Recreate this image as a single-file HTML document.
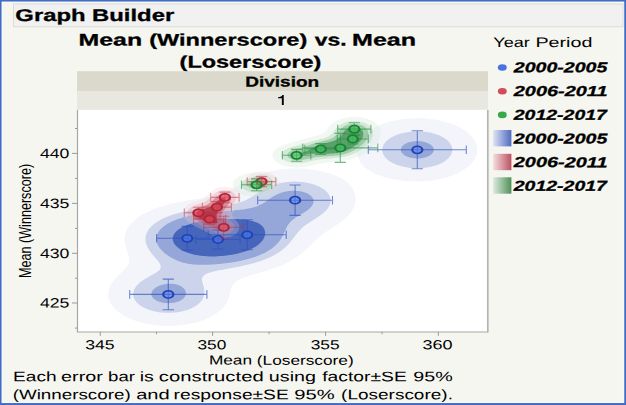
<!DOCTYPE html>
<html><head><meta charset="utf-8"><title>Graph Builder</title>
<style>
html,body{margin:0;padding:0;background:#f6f6f1;}
body{width:626px;height:405px;overflow:hidden;font-family:"Liberation Sans",sans-serif;}
svg{display:block;font-family:"Liberation Sans",sans-serif;}
text{fill:#000;font-size:50px;}
</style></head><body>
<svg width="626" height="405" viewBox="0 0 626 405">
<rect x="0" y="0" width="626" height="405" fill="#3f6cc4"/>
<rect x="1.55" y="1.55" width="622.7" height="401.5" fill="#fdfdfa"/>
<rect x="2.4" y="2.4" width="621.1" height="400.1" fill="#f6f6f1"/>
<rect x="13.5" y="4" width="609.5" height="22.8" fill="#f1f1f1" stroke="#dcdcd8" stroke-width="1"/>
<rect x="77" y="71.2" width="411" height="20.3" fill="#dbd9cb"/>
<rect x="77" y="91.5" width="411" height="18.4" fill="#e8e8e1"/>
<rect x="77" y="109.9" width="411" height="222" fill="#ffffff"/>
<defs><clipPath id="pc"><rect x="77.5" y="110" width="410.5" height="221.8"/></clipPath>
<linearGradient id="gb" x1="0" x2="1" y1="0" y2="0"><stop offset="0" stop-color="#dfe4f4"/><stop offset="1" stop-color="#4e6ac2"/></linearGradient>
<linearGradient id="gr" x1="0" x2="1" y1="0" y2="0"><stop offset="0" stop-color="#f4dde0"/><stop offset="1" stop-color="#bc5262"/></linearGradient>
<linearGradient id="gg" x1="0" x2="1" y1="0" y2="0"><stop offset="0" stop-color="#dcebdd"/><stop offset="1" stop-color="#4e9159"/></linearGradient>
</defs>
<g clip-path="url(#pc)">
<path d="M409.3,118.5 410.5,118.4 412.0,118.3 413.5,118.3 415.0,118.2 416.5,118.2 418.0,118.2 419.5,118.2 421.0,118.3 422.5,118.3 424.0,118.4 425.3,118.5 426.5,118.6 428.0,118.7 429.5,118.9 430.5,119.0 432.0,119.2 433.5,119.4 434.5,119.5 436.0,119.8 437.2,120.0 438.5,120.3 439.7,120.5 441.0,120.8 442.0,121.0 443.5,121.4 444.5,121.7 445.8,122.0 447.0,122.4 448.0,122.7 449.0,123.0 450.5,123.5 451.5,123.9 452.5,124.2 453.5,124.6 454.5,125.0 455.6,125.5 456.7,126.0 457.8,126.5 458.8,127.0 459.8,127.5 460.7,128.0 461.6,128.5 462.5,129.0 463.5,129.7 464.5,130.3 465.5,131.0 466.2,131.5 467.0,132.1 468.0,132.9 468.7,133.5 469.5,134.2 470.3,135.0 471.0,135.7 471.7,136.5 472.5,137.4 473.0,138.1 473.7,139.0 474.3,140.0 474.9,141.0 475.4,142.0 475.9,143.0 476.3,144.0 476.6,145.0 477.0,146.5 477.1,147.5 477.3,149.0 477.3,150.5 477.2,152.0 477.0,153.0 476.6,154.5 476.3,155.5 475.9,156.5 475.5,157.5 475.0,158.5 474.4,159.5 473.8,160.5 473.0,161.5 472.5,162.2 471.8,163.0 471.0,163.9 470.4,164.5 469.5,165.4 468.8,166.0 468.0,166.7 467.0,167.5 466.3,168.0 465.5,168.6 464.5,169.3 463.5,169.9 462.6,170.5 461.8,171.0 460.9,171.5 460.0,172.0 459.0,172.5 458.0,173.0 457.0,173.5 455.8,174.0 454.7,174.5 453.5,175.0 452.5,175.4 451.5,175.7 450.5,176.1 449.3,176.5 448.0,176.9 447.0,177.2 446.0,177.5 444.5,177.9 443.5,178.2 442.3,178.5 441.0,178.8 440.0,179.0 438.5,179.3 437.5,179.5 436.0,179.8 434.9,180.0 433.5,180.2 432.0,180.4 431.0,180.6 429.5,180.7 428.0,180.9 426.7,181.0 425.5,181.1 424.0,181.2 422.5,181.3 421.0,181.3 419.5,181.4 418.0,181.4 416.5,181.4 415.0,181.4 413.5,181.4 412.0,181.3 410.5,181.3 409.0,181.2 407.5,181.1 406.5,181.0 405.0,180.9 403.5,180.7 402.0,180.5 401.0,180.4 399.5,180.2 398.1,180.0 397.0,179.8 395.5,179.6 394.5,179.4 393.0,179.1 392.0,178.9 390.5,178.6 389.5,178.3 388.1,178.0 387.0,177.7 386.0,177.5 384.5,177.0 383.5,176.7 382.5,176.4 381.1,176.0 380.0,175.6 379.0,175.3 378.0,174.9 377.0,174.5 375.8,174.0 374.7,173.5 373.6,173.0 372.6,172.5 371.6,172.0 370.7,171.5 369.8,171.0 369.0,170.5 368.0,169.8 367.0,169.1 366.2,168.5 365.5,167.9 364.5,167.0 363.9,166.5 363.0,165.5 362.5,165.0 361.7,164.0 361.0,163.0 360.5,162.3 360.0,161.5 359.4,160.5 358.9,159.5 358.5,158.5 358.0,157.2 357.6,156.0 357.4,155.0 357.1,153.5 357.0,152.3 356.9,151.0 357.0,149.5 357.1,148.5 357.3,147.0 357.6,146.0 358.0,144.6 358.4,143.5 358.8,142.5 359.3,141.5 359.9,140.5 360.5,139.6 361.0,138.8 361.6,138.0 362.4,137.0 363.0,136.3 363.8,135.5 364.5,134.8 365.3,134.0 366.0,133.4 367.0,132.6 367.7,132.0 368.5,131.4 369.5,130.7 370.5,130.0 371.3,129.5 372.2,129.0 373.0,128.5 374.0,127.9 375.0,127.4 376.0,126.9 377.0,126.4 378.0,125.9 379.0,125.5 380.2,125.0 381.4,124.5 382.5,124.1 383.5,123.7 384.5,123.4 385.6,123.0 387.0,122.5 388.0,122.2 389.0,122.0 390.5,121.5 391.5,121.3 392.7,121.0 394.0,120.7 395.0,120.5 396.5,120.2 397.5,120.0 399.0,119.7 400.4,119.5 401.5,119.3 403.0,119.1 404.1,119.0 405.5,118.8 407.0,118.7 408.5,118.6ZM285.3,169.0 286.5,168.9 288.0,168.8 289.5,168.7 291.0,168.6 292.5,168.6 294.0,168.6 295.5,168.6 297.0,168.6 298.5,168.6 300.0,168.6 301.5,168.7 303.0,168.8 304.5,168.9 306.0,169.0 307.0,169.1 308.5,169.2 310.0,169.4 311.0,169.5 312.5,169.7 314.0,169.9 315.0,170.1 316.5,170.4 317.5,170.5 319.0,170.8 320.0,171.0 321.5,171.3 322.5,171.6 324.0,171.9 325.0,172.2 326.3,172.5 327.5,172.8 328.5,173.1 329.7,173.5 331.0,173.9 332.0,174.2 333.0,174.6 334.1,175.0 335.4,175.5 336.5,175.9 337.5,176.4 338.5,176.8 339.5,177.3 340.5,177.8 341.5,178.4 342.5,179.0 343.4,179.5 344.2,180.0 345.0,180.6 346.0,181.3 346.8,182.0 347.5,182.6 348.5,183.5 349.0,184.0 349.9,185.0 350.5,185.7 351.1,186.5 351.8,187.5 352.4,188.5 353.0,189.5 353.5,190.5 353.9,191.5 354.3,192.5 354.7,193.5 355.0,194.8 355.3,196.0 355.5,197.5 355.5,198.5 355.5,200.0 355.5,201.0 355.3,202.5 355.0,203.9 354.7,205.0 354.4,206.0 354.0,207.0 353.5,208.1 353.0,209.1 352.5,210.0 351.9,211.0 351.2,212.0 350.5,213.0 350.0,213.6 349.2,214.5 348.5,215.3 347.9,216.0 347.0,216.9 346.3,217.5 345.5,218.3 344.7,219.0 344.0,219.6 343.0,220.4 342.2,221.0 341.5,221.5 340.5,222.3 339.5,223.0 338.8,223.5 338.0,224.0 337.0,224.7 336.0,225.4 335.1,226.0 334.3,226.5 333.5,227.0 332.5,227.7 331.5,228.3 330.5,229.0 329.7,229.5 328.9,230.0 328.0,230.6 327.0,231.3 326.0,231.9 325.2,232.5 324.5,233.0 323.5,233.7 322.5,234.4 321.8,235.0 321.0,235.6 320.0,236.4 319.3,237.0 318.5,237.7 317.6,238.5 317.0,239.0 316.0,239.9 315.4,240.5 314.5,241.4 313.8,242.0 313.0,242.8 312.3,243.5 311.5,244.3 310.8,245.0 310.0,245.8 309.3,246.5 308.5,247.3 307.8,248.0 307.0,248.8 306.2,249.5 305.5,250.2 304.6,251.0 304.0,251.5 303.0,252.4 302.2,253.0 301.5,253.6 300.5,254.4 299.7,255.0 299.0,255.5 298.0,256.2 297.0,256.9 296.2,257.5 295.4,258.0 294.5,258.6 293.5,259.2 292.5,259.8 291.5,260.4 290.5,261.0 289.5,261.5 288.6,262.0 287.6,262.5 286.6,263.0 285.6,263.5 284.5,264.0 283.5,264.5 282.5,264.9 281.5,265.3 280.5,265.8 279.5,266.2 278.5,266.6 277.5,267.0 276.1,267.5 275.0,267.9 274.0,268.3 273.0,268.6 272.0,269.0 270.5,269.5 269.5,269.8 268.5,270.2 267.4,270.5 266.0,270.9 265.0,271.2 264.0,271.5 262.5,272.0 261.5,272.3 260.5,272.6 259.0,273.0 258.0,273.3 257.0,273.6 255.5,274.0 254.5,274.3 253.5,274.6 252.1,275.0 251.0,275.3 250.0,275.6 248.7,276.0 247.5,276.4 246.5,276.7 245.5,277.1 244.3,277.5 243.0,278.0 242.0,278.4 241.0,278.8 240.0,279.3 239.0,279.8 238.0,280.3 237.0,281.0 236.2,281.5 235.5,282.1 234.5,283.0 234.0,283.5 233.2,284.5 232.6,285.5 232.0,286.5 231.6,287.5 231.3,288.5 231.0,289.5 230.6,291.0 230.3,292.0 230.0,293.3 229.7,294.5 229.4,295.5 229.0,297.0 228.7,298.0 228.3,299.0 227.9,300.0 227.4,301.0 226.9,302.0 226.3,303.0 225.7,304.0 225.0,305.0 224.5,305.7 223.9,306.5 223.0,307.5 222.5,308.1 221.6,309.0 221.0,309.6 220.0,310.5 219.4,311.0 218.5,311.7 217.5,312.5 216.8,313.0 216.0,313.6 215.0,314.2 214.0,314.9 213.0,315.5 212.1,316.0 211.2,316.5 210.2,317.0 209.2,317.5 208.2,318.0 207.1,318.5 206.0,319.0 205.0,319.4 204.0,319.8 203.0,320.2 202.0,320.5 200.6,321.0 199.5,321.4 198.5,321.7 197.5,322.0 196.0,322.4 195.0,322.7 193.7,323.0 192.5,323.3 191.5,323.5 190.0,323.8 189.0,324.0 187.5,324.3 186.5,324.5 185.0,324.7 183.5,325.0 182.5,325.1 181.0,325.3 179.5,325.4 178.5,325.5 177.0,325.6 175.5,325.8 174.0,325.8 172.5,325.9 171.0,325.9 169.5,326.0 168.0,326.0 166.5,326.0 165.0,325.9 163.5,325.9 162.0,325.8 160.5,325.7 159.0,325.6 157.9,325.5 156.5,325.4 155.0,325.2 153.5,325.0 152.5,324.9 151.0,324.6 150.0,324.5 148.5,324.2 147.4,324.0 146.0,323.7 145.0,323.5 143.5,323.2 142.5,322.9 141.0,322.5 140.0,322.2 139.0,322.0 137.5,321.5 136.5,321.2 135.5,320.8 134.5,320.5 133.2,320.0 132.0,319.5 131.0,319.1 130.0,318.7 129.0,318.3 128.0,317.8 127.0,317.3 126.0,316.8 125.0,316.3 124.0,315.7 123.0,315.1 122.0,314.5 121.3,314.0 120.5,313.5 119.5,312.8 118.5,312.0 117.9,311.5 117.0,310.8 116.1,310.0 115.5,309.4 114.6,308.5 114.0,307.8 113.3,307.0 112.5,306.0 112.0,305.3 111.4,304.5 110.8,303.5 110.3,302.5 109.8,301.5 109.4,300.5 109.0,299.3 108.7,298.0 108.5,297.0 108.3,295.5 108.3,294.0 108.3,292.5 108.5,291.3 108.8,290.0 109.1,289.0 109.5,287.7 110.0,286.5 110.5,285.5 111.0,284.5 111.5,283.7 112.0,282.9 112.6,282.0 113.4,281.0 114.0,280.2 114.6,279.5 115.4,278.5 116.0,277.9 116.8,277.0 117.5,276.3 118.3,275.5 119.0,274.8 119.8,274.0 120.5,273.4 121.4,272.5 122.0,271.9 123.0,271.0 123.5,270.5 124.4,269.5 125.0,268.9 125.8,268.0 126.5,267.1 127.0,266.4 127.6,265.5 128.2,264.5 128.6,263.5 129.0,262.0 129.2,261.0 129.2,259.5 129.0,258.0 128.9,257.0 128.5,255.5 128.2,254.5 127.9,253.5 127.5,252.4 127.0,251.0 126.7,250.0 126.4,249.0 126.0,247.9 125.6,246.5 125.4,245.5 125.0,244.0 124.9,243.0 124.7,241.5 124.6,240.0 124.6,238.5 124.7,237.0 125.0,235.5 125.2,234.5 125.5,233.3 125.9,232.0 126.3,231.0 126.8,230.0 127.3,229.0 127.9,228.0 128.5,227.0 129.0,226.3 129.6,225.5 130.4,224.5 131.0,223.8 131.7,223.0 132.5,222.1 133.2,221.5 134.0,220.7 134.8,220.0 135.5,219.4 136.5,218.6 137.3,218.0 138.0,217.5 139.0,216.8 140.0,216.1 140.9,215.5 141.7,215.0 142.6,214.5 143.5,214.0 144.5,213.4 145.5,212.9 146.5,212.4 147.5,211.9 148.5,211.4 149.5,210.9 150.5,210.5 151.6,210.0 152.8,209.5 154.0,209.0 155.0,208.6 156.0,208.3 157.0,207.9 158.1,207.5 159.5,207.0 160.5,206.7 161.5,206.4 162.8,206.0 164.0,205.6 165.0,205.4 166.3,205.0 167.5,204.7 168.5,204.4 170.0,204.0 171.0,203.8 172.2,203.5 173.5,203.2 174.5,203.0 176.0,202.7 177.0,202.5 178.5,202.1 179.5,202.0 181.0,201.7 182.0,201.5 183.5,201.2 184.7,201.0 186.0,200.8 187.5,200.5 188.5,200.3 190.0,200.1 191.0,199.9 192.5,199.7 193.8,199.5 195.0,199.3 196.5,199.1 197.5,198.9 199.0,198.7 200.1,198.5 201.5,198.3 203.0,198.0 204.0,197.9 205.5,197.6 206.5,197.4 208.0,197.2 209.0,197.0 210.5,196.7 211.5,196.5 213.0,196.1 214.0,195.9 215.5,195.6 216.5,195.3 217.7,195.0 219.0,194.6 220.0,194.3 221.0,194.0 222.5,193.5 223.5,193.1 224.5,192.8 225.5,192.4 226.5,191.9 227.5,191.5 228.5,191.0 229.6,190.5 230.5,190.0 231.5,189.5 232.5,188.9 233.5,188.4 234.5,187.8 235.5,187.2 236.5,186.6 237.4,186.0 238.2,185.5 239.0,185.0 240.0,184.4 241.0,183.8 242.0,183.1 243.0,182.5 243.9,182.0 244.8,181.5 245.6,181.0 246.5,180.5 247.5,180.0 248.5,179.4 249.5,178.9 250.5,178.4 251.5,177.9 252.5,177.4 253.5,177.0 254.6,176.5 255.7,176.0 257.0,175.5 258.0,175.1 259.0,174.7 260.0,174.4 261.0,174.0 262.5,173.5 263.5,173.2 264.5,172.9 265.8,172.5 267.0,172.2 268.0,171.9 269.5,171.5 270.5,171.3 271.9,171.0 273.0,170.8 274.3,170.5 275.5,170.3 277.0,170.0 278.0,169.9 279.5,169.7 280.6,169.5 282.0,169.3 283.5,169.2 285.0,169.0Z" fill="#f3f5fb"/>
<path d="M413.3,131.5 414.5,131.4 416.0,131.4 417.5,131.4 419.0,131.4 420.5,131.5 421.5,131.5 423.0,131.6 424.5,131.8 426.0,132.0 427.0,132.1 428.5,132.3 429.5,132.5 431.0,132.8 432.0,133.1 433.5,133.5 434.5,133.8 435.5,134.1 436.8,134.5 438.0,134.9 439.0,135.3 440.0,135.8 441.0,136.2 442.0,136.7 443.0,137.3 444.0,137.9 444.9,138.5 445.7,139.0 446.5,139.6 447.5,140.5 448.0,141.0 449.0,142.0 449.5,142.6 450.2,143.5 450.8,144.5 451.3,145.5 451.7,146.5 452.0,147.5 452.3,149.0 452.3,150.5 452.0,152.0 451.8,153.0 451.4,154.0 450.9,155.0 450.3,156.0 449.5,157.0 449.0,157.6 448.2,158.5 447.5,159.1 446.5,160.0 445.8,160.5 445.0,161.1 444.0,161.7 443.0,162.3 442.0,162.9 441.0,163.4 440.0,163.8 439.0,164.3 438.0,164.7 437.0,165.0 435.6,165.5 434.5,165.8 433.5,166.1 432.1,166.5 431.0,166.8 429.8,167.0 428.5,167.3 427.0,167.5 426.0,167.6 424.5,167.8 423.0,168.0 422.0,168.1 420.5,168.2 419.0,168.2 417.5,168.2 416.0,168.2 414.5,168.2 413.0,168.1 411.7,168.0 410.5,167.9 409.0,167.7 407.5,167.5 406.5,167.3 405.0,167.1 404.0,166.9 402.5,166.5 401.5,166.3 400.5,166.0 399.0,165.6 398.0,165.2 397.0,164.9 396.0,164.5 394.9,164.0 393.8,163.5 392.7,163.0 391.8,162.5 390.9,162.0 390.0,161.4 389.0,160.7 388.0,160.0 387.4,159.5 386.5,158.7 385.8,158.0 385.0,157.0 384.5,156.4 383.9,155.5 383.4,154.5 382.9,153.5 382.5,152.0 382.3,151.0 382.3,149.5 382.4,148.0 382.7,147.0 383.0,146.0 383.5,145.0 384.1,144.0 384.8,143.0 385.5,142.1 386.0,141.5 387.0,140.6 387.7,140.0 388.5,139.3 389.5,138.6 390.4,138.0 391.2,137.5 392.1,137.0 393.1,136.5 394.1,136.0 395.2,135.5 396.5,135.0 397.5,134.6 398.5,134.3 399.5,133.9 401.0,133.5 402.0,133.2 403.0,133.0 404.5,132.7 405.5,132.5 407.0,132.2 408.3,132.0 409.5,131.8 411.0,131.7 412.5,131.6ZM287.5,182.0 288.5,181.9 290.0,181.8 291.5,181.7 293.0,181.6 294.5,181.6 296.0,181.6 297.5,181.7 299.0,181.8 300.5,181.9 301.9,182.0 303.0,182.1 304.5,182.3 305.6,182.5 307.0,182.7 308.3,183.0 309.5,183.3 310.5,183.5 312.0,183.9 313.0,184.2 314.0,184.5 315.3,185.0 316.5,185.5 317.5,185.9 318.5,186.3 319.5,186.8 320.5,187.3 321.5,187.9 322.5,188.5 323.3,189.0 324.0,189.5 325.0,190.3 325.8,191.0 326.5,191.7 327.3,192.5 328.0,193.4 328.5,194.1 329.0,195.0 329.6,196.0 330.0,197.1 330.4,198.5 330.5,199.5 330.6,201.0 330.5,202.1 330.2,203.5 329.9,204.5 329.5,205.5 329.0,206.5 328.4,207.5 327.7,208.5 327.0,209.4 326.5,210.0 325.6,211.0 325.0,211.6 324.0,212.5 323.4,213.0 322.5,213.8 321.6,214.5 320.9,215.0 320.0,215.6 319.0,216.3 318.0,217.0 317.3,217.5 316.5,218.0 315.5,218.6 314.5,219.3 313.5,219.9 312.5,220.5 311.7,221.0 310.9,221.5 310.0,222.1 309.0,222.7 308.0,223.4 307.1,224.0 306.4,224.5 305.5,225.1 304.5,225.9 303.7,226.5 303.0,227.1 302.0,228.0 301.4,228.5 300.5,229.4 299.9,230.0 299.0,231.0 298.5,231.6 297.7,232.5 297.0,233.4 296.5,234.0 295.7,235.0 295.0,236.0 294.5,236.7 293.9,237.5 293.1,238.5 292.5,239.3 292.0,240.0 291.2,241.0 290.5,241.9 290.0,242.5 289.1,243.5 288.5,244.2 287.7,245.0 287.0,245.7 286.2,246.5 285.5,247.2 284.6,248.0 284.0,248.5 283.0,249.3 282.2,250.0 281.5,250.5 280.5,251.2 279.5,251.9 278.7,252.5 277.9,253.0 277.0,253.5 276.0,254.1 275.0,254.7 274.0,255.3 273.0,255.8 272.0,256.3 271.0,256.8 270.0,257.3 269.0,257.7 268.0,258.2 267.0,258.6 266.0,259.0 264.7,259.5 263.5,260.0 262.5,260.3 261.5,260.7 260.5,261.0 259.1,261.5 258.0,261.8 257.0,262.2 255.9,262.5 254.5,262.9 253.5,263.2 252.3,263.5 251.0,263.9 250.0,264.1 248.5,264.5 247.5,264.7 246.3,265.0 245.0,265.3 244.0,265.5 242.5,265.9 241.5,266.1 240.0,266.4 239.0,266.6 237.5,266.9 236.5,267.1 235.0,267.4 234.0,267.5 232.5,267.8 231.5,268.0 230.0,268.3 228.8,268.5 227.5,268.7 226.1,269.0 225.0,269.2 223.5,269.5 222.5,269.7 221.0,269.9 220.0,270.1 218.5,270.4 217.5,270.6 216.0,271.0 215.0,271.2 213.7,271.5 212.5,271.8 211.5,272.1 210.1,272.5 209.0,272.8 208.0,273.2 207.0,273.6 206.0,274.1 205.0,274.6 204.0,275.4 203.3,276.0 202.6,277.0 202.2,278.0 202.0,279.5 202.2,281.0 202.5,282.5 202.8,283.5 203.0,284.5 203.5,286.0 203.7,287.0 204.0,288.2 204.2,289.5 204.4,291.0 204.4,292.5 204.3,294.0 204.0,295.5 203.7,296.5 203.3,297.5 202.9,298.5 202.3,299.5 201.6,300.5 201.0,301.3 200.4,302.0 199.5,303.0 198.9,303.5 198.0,304.3 197.1,305.0 196.4,305.5 195.5,306.1 194.5,306.7 193.5,307.2 192.5,307.8 191.5,308.2 190.5,308.7 189.5,309.1 188.4,309.5 187.0,310.0 186.0,310.3 185.0,310.6 183.5,311.0 182.5,311.3 181.4,311.5 180.0,311.8 178.7,312.0 177.5,312.2 176.0,312.4 174.9,312.5 173.5,312.6 172.0,312.7 170.5,312.8 169.0,312.8 167.5,312.8 166.0,312.8 164.5,312.7 163.0,312.6 161.7,312.5 160.5,312.4 159.0,312.2 157.9,312.0 156.5,311.7 155.3,311.5 154.0,311.2 153.0,311.0 151.5,310.6 150.5,310.3 149.5,309.9 148.2,309.5 147.0,309.0 146.0,308.6 145.0,308.2 144.0,307.7 143.0,307.1 142.0,306.6 141.1,306.0 140.3,305.5 139.5,304.9 138.5,304.1 137.8,303.5 137.0,302.7 136.4,302.0 135.6,301.0 135.0,300.2 134.5,299.3 134.0,298.2 133.6,297.0 133.3,296.0 133.2,294.5 133.2,293.0 133.5,291.5 133.8,290.5 134.2,289.5 134.7,288.5 135.3,287.5 136.0,286.6 136.5,285.9 137.3,285.0 138.0,284.3 138.8,283.5 139.5,282.9 140.5,282.1 141.2,281.5 142.0,280.9 143.0,280.2 144.0,279.6 144.9,279.0 145.7,278.5 146.6,278.0 147.5,277.5 148.5,276.9 149.5,276.3 150.5,275.8 151.5,275.2 152.5,274.7 153.5,274.1 154.5,273.6 155.5,273.0 156.3,272.5 157.0,272.0 158.0,271.3 159.0,270.5 159.5,269.9 160.2,269.0 160.6,268.0 160.8,266.5 160.5,265.2 160.0,264.0 159.5,263.2 159.0,262.4 158.4,261.5 157.6,260.5 157.0,259.8 156.3,259.0 155.5,258.1 155.0,257.5 154.2,256.5 153.5,255.7 152.9,255.0 152.1,254.0 151.5,253.3 150.9,252.5 150.2,251.5 149.5,250.5 149.0,249.8 148.5,249.0 148.0,248.0 147.4,247.0 147.0,246.0 146.5,244.8 146.1,243.5 145.8,242.5 145.6,241.0 145.5,240.0 145.5,238.5 145.5,237.5 145.8,236.0 146.0,235.0 146.5,233.6 147.0,232.5 147.5,231.5 148.0,230.6 148.5,229.8 149.1,229.0 149.9,228.0 150.5,227.3 151.3,226.5 152.0,225.8 152.9,225.0 153.5,224.5 154.5,223.7 155.4,223.0 156.1,222.5 157.0,221.9 158.0,221.3 159.0,220.7 160.0,220.1 161.0,219.6 162.0,219.0 163.0,218.5 164.0,218.1 165.0,217.6 166.0,217.2 167.0,216.8 168.0,216.4 169.0,216.0 170.3,215.5 171.5,215.1 172.5,214.8 173.5,214.4 174.9,214.0 176.0,213.7 177.0,213.4 178.4,213.0 179.5,212.7 180.5,212.5 182.0,212.1 183.0,211.9 184.5,211.5 185.5,211.3 186.9,211.0 188.0,210.8 189.5,210.5 190.5,210.3 192.0,210.0 193.0,209.9 194.5,209.6 195.5,209.5 197.0,209.2 198.5,209.0 199.5,208.8 201.0,208.6 202.0,208.5 203.5,208.3 205.0,208.1 206.0,208.0 207.5,207.8 209.0,207.6 210.0,207.5 211.5,207.3 213.0,207.1 214.0,207.0 215.5,206.8 217.0,206.6 218.0,206.5 219.5,206.3 221.0,206.1 222.0,206.0 223.5,205.7 225.0,205.5 226.0,205.4 227.5,205.1 228.5,205.0 230.0,204.7 231.1,204.5 232.5,204.2 233.5,204.0 235.0,203.7 236.0,203.4 237.5,203.0 238.5,202.8 239.5,202.5 241.0,202.0 242.0,201.6 243.0,201.3 244.0,200.9 245.0,200.5 246.0,200.0 247.1,199.5 248.1,199.0 249.0,198.5 250.0,197.9 251.0,197.4 252.0,196.7 253.0,196.1 254.0,195.5 254.7,195.0 255.5,194.5 256.5,193.8 257.5,193.2 258.5,192.5 259.3,192.0 260.1,191.5 261.0,190.9 262.0,190.3 263.0,189.8 264.0,189.2 265.0,188.7 266.0,188.1 267.0,187.7 268.0,187.2 269.0,186.7 270.0,186.3 271.0,185.9 272.1,185.5 273.5,185.0 274.5,184.7 275.5,184.4 276.8,184.0 278.0,183.7 279.0,183.4 280.5,183.1 281.5,182.9 283.0,182.6 284.0,182.5 285.5,182.2 287.0,182.1Z" fill="#ccd4ec"/>
<path d="M412.4,141.5 413.5,141.4 415.0,141.2 416.5,141.1 418.0,141.1 419.5,141.2 421.0,141.3 422.1,141.5 423.5,141.8 424.6,142.0 426.0,142.4 427.0,142.8 428.0,143.2 429.0,143.7 430.0,144.3 431.0,145.0 431.6,145.5 432.5,146.4 433.0,147.1 433.5,148.2 433.8,149.5 433.6,151.0 433.3,152.0 432.6,153.0 432.0,153.7 431.2,154.5 430.5,155.0 429.5,155.6 428.5,156.2 427.5,156.6 426.5,157.0 425.0,157.5 424.0,157.7 422.7,158.0 421.5,158.2 420.0,158.4 418.5,158.5 417.0,158.5 415.5,158.4 414.0,158.3 412.5,158.1 411.5,157.9 410.0,157.6 409.0,157.3 408.0,157.0 406.8,156.5 405.7,156.0 404.8,155.5 404.0,155.0 403.0,154.1 402.4,153.5 401.6,152.5 401.1,151.5 400.8,150.5 400.9,149.0 401.2,148.0 401.7,147.0 402.5,146.0 403.0,145.5 404.0,144.7 405.0,144.0 405.9,143.5 407.0,143.0 408.0,142.6 409.0,142.3 410.0,142.0 411.5,141.7ZM289.0,191.0 290.0,190.9 291.5,190.8 293.0,190.7 294.5,190.7 296.0,190.8 297.5,190.9 298.7,191.0 300.0,191.2 301.5,191.5 302.5,191.7 303.6,192.0 305.0,192.5 306.0,192.9 307.0,193.3 308.0,193.8 309.0,194.4 309.9,195.0 310.5,195.5 311.5,196.4 312.0,197.0 312.7,198.0 313.2,199.0 313.5,200.3 313.6,201.5 313.5,202.5 313.0,204.0 312.5,205.0 312.0,205.8 311.5,206.5 310.6,207.5 310.0,208.1 309.1,209.0 308.5,209.5 307.5,210.2 306.5,211.0 305.7,211.5 305.0,212.0 304.0,212.6 303.0,213.2 302.0,213.8 301.0,214.4 300.0,215.0 299.1,215.5 298.3,216.0 297.4,216.5 296.5,217.1 295.5,217.7 294.5,218.4 293.7,219.0 293.0,219.5 292.0,220.4 291.3,221.0 290.5,221.8 289.9,222.5 289.1,223.5 288.5,224.3 288.0,225.0 287.4,226.0 286.9,227.0 286.3,228.0 285.9,229.0 285.4,230.0 284.9,231.0 284.5,232.0 284.0,233.1 283.5,234.1 283.0,235.1 282.5,236.1 282.0,237.0 281.4,238.0 280.8,239.0 280.1,240.0 279.5,240.9 279.0,241.5 278.2,242.5 277.5,243.3 276.8,244.0 276.0,244.9 275.3,245.5 274.5,246.2 273.6,247.0 273.0,247.5 272.0,248.3 271.0,249.0 270.3,249.5 269.5,250.0 268.5,250.6 267.5,251.2 266.5,251.8 265.5,252.4 264.5,252.9 263.5,253.4 262.5,253.8 261.5,254.3 260.5,254.7 259.5,255.2 258.5,255.6 257.4,256.0 256.0,256.5 255.0,256.9 254.0,257.2 253.0,257.5 251.5,258.0 250.5,258.3 249.5,258.6 248.0,259.0 247.0,259.3 246.0,259.5 244.5,259.9 243.5,260.1 242.0,260.5 241.0,260.7 239.6,261.0 238.5,261.2 237.0,261.5 236.0,261.7 234.5,261.9 233.5,262.1 232.0,262.4 231.0,262.5 229.5,262.7 228.0,262.9 227.0,263.1 225.5,263.3 224.0,263.4 223.0,263.6 221.5,263.7 220.0,263.9 218.7,264.0 217.5,264.1 216.0,264.2 214.5,264.4 213.0,264.5 212.0,264.5 210.5,264.6 209.0,264.7 207.5,264.7 206.0,264.8 204.5,264.8 203.0,264.8 201.5,264.8 200.0,264.8 198.5,264.8 197.0,264.7 195.5,264.6 194.0,264.5 193.0,264.4 191.5,264.3 190.0,264.1 189.0,263.9 187.5,263.6 186.5,263.4 185.0,263.1 184.0,262.9 182.7,262.5 181.5,262.1 180.5,261.8 179.5,261.5 178.3,261.0 177.0,260.5 176.0,260.1 175.0,259.6 174.0,259.1 173.0,258.6 172.0,258.1 171.0,257.5 170.2,257.0 169.4,256.5 168.5,255.9 167.5,255.3 166.5,254.5 165.8,254.0 165.0,253.4 164.0,252.5 163.4,252.0 162.5,251.1 161.9,250.5 161.0,249.5 160.5,249.0 159.7,248.0 159.0,247.0 158.5,246.1 158.0,245.2 157.5,244.2 157.0,243.0 156.7,242.0 156.5,240.8 156.4,239.5 156.4,238.0 156.5,237.0 156.9,235.5 157.2,234.5 157.6,233.5 158.2,232.5 158.8,231.5 159.5,230.5 160.0,229.9 160.8,229.0 161.5,228.3 162.4,227.5 163.0,227.0 164.0,226.2 164.9,225.5 165.7,225.0 166.5,224.4 167.5,223.8 168.5,223.3 169.5,222.7 170.5,222.2 171.5,221.7 172.5,221.3 173.5,220.8 174.5,220.4 175.5,220.0 176.8,219.5 178.0,219.1 179.0,218.7 180.0,218.4 181.3,218.0 182.5,217.6 183.5,217.3 184.8,217.0 186.0,216.7 187.0,216.4 188.5,216.1 189.5,215.8 191.0,215.5 192.0,215.3 193.5,215.0 194.5,214.8 196.0,214.6 197.0,214.4 198.5,214.1 199.5,214.0 201.0,213.8 202.5,213.5 203.5,213.4 205.0,213.2 206.5,213.0 207.5,212.9 209.0,212.7 210.5,212.6 211.5,212.4 213.0,212.3 214.5,212.1 215.9,212.0 217.0,211.9 218.5,211.8 220.0,211.6 221.4,211.5 222.5,211.4 224.0,211.3 225.5,211.1 227.0,211.0 228.0,210.9 229.5,210.8 231.0,210.7 232.5,210.5 233.5,210.4 235.0,210.3 236.5,210.1 237.9,210.0 239.0,209.9 240.5,209.7 242.0,209.5 243.0,209.4 244.5,209.2 245.6,209.0 247.0,208.8 248.5,208.5 249.5,208.3 250.9,208.0 252.0,207.7 253.0,207.5 254.5,207.1 255.5,206.7 256.5,206.4 257.6,206.0 258.8,205.5 259.9,205.0 260.9,204.5 261.9,204.0 262.8,203.5 263.6,203.0 264.5,202.4 265.5,201.8 266.5,201.1 267.3,200.5 268.0,200.0 269.0,199.3 270.0,198.6 270.9,198.0 271.6,197.5 272.5,196.9 273.5,196.3 274.5,195.8 275.5,195.2 276.5,194.7 277.5,194.2 278.5,193.8 279.5,193.4 280.5,193.0 282.0,192.5 283.0,192.2 284.0,191.9 285.5,191.6 286.5,191.4 288.0,191.1ZM165.8,284.0 167.0,283.8 168.5,283.7 170.0,283.7 171.5,283.7 173.0,283.8 174.4,284.0 175.5,284.2 176.7,284.5 178.0,284.9 179.0,285.3 180.0,285.7 181.0,286.3 182.0,286.9 182.8,287.5 183.5,288.2 184.3,289.0 185.0,290.0 185.5,291.0 185.8,292.0 186.0,293.5 185.7,295.0 185.3,296.0 184.7,297.0 184.0,297.9 183.4,298.5 182.5,299.2 181.5,299.9 180.5,300.5 179.5,301.0 178.5,301.4 177.5,301.8 176.5,302.1 175.0,302.4 174.0,302.7 172.5,302.9 171.5,303.0 170.0,303.1 168.5,303.2 167.0,303.1 165.5,303.0 164.5,302.9 163.0,302.7 162.0,302.5 160.5,302.1 159.5,301.8 158.5,301.5 157.3,301.0 156.3,300.5 155.5,300.0 154.5,299.3 153.5,298.5 153.0,298.0 152.3,297.0 151.7,296.0 151.4,295.0 151.4,293.5 151.6,292.5 152.0,291.5 152.6,290.5 153.4,289.5 154.0,288.9 155.0,288.1 155.9,287.5 156.7,287.0 157.6,286.5 158.7,286.0 159.9,285.5 161.0,285.1 162.0,284.8 163.2,284.5 164.5,284.2 165.8,284.0Z" fill="#95a6d8"/>
<path d="M222.3,219.0 223.5,219.0 225.0,218.9 226.5,218.9 228.0,218.9 229.5,218.9 231.0,218.9 232.5,218.9 234.0,218.9 235.5,219.0 236.5,219.0 238.0,219.1 239.5,219.2 241.0,219.3 242.5,219.4 243.5,219.5 245.0,219.7 246.5,219.9 247.5,220.1 249.0,220.3 250.0,220.5 251.5,220.9 252.5,221.1 253.9,221.5 255.0,221.9 256.0,222.2 257.0,222.6 258.0,223.1 259.0,223.6 260.0,224.3 261.0,225.0 261.6,225.5 262.5,226.4 263.0,227.0 263.7,228.0 264.2,229.0 264.6,230.0 265.0,231.5 265.1,232.5 265.1,234.0 265.0,235.0 264.6,236.5 264.2,237.5 263.7,238.5 263.2,239.5 262.5,240.5 262.0,241.1 261.2,242.0 260.5,242.8 259.7,243.5 259.0,244.1 258.0,244.9 257.2,245.5 256.5,246.0 255.5,246.7 254.5,247.3 253.5,247.8 252.5,248.4 251.5,248.8 250.5,249.3 249.5,249.8 248.5,250.2 247.5,250.6 246.4,251.0 245.0,251.5 244.0,251.8 243.0,252.1 241.7,252.5 240.5,252.8 239.5,253.1 238.0,253.5 237.0,253.7 235.7,254.0 234.5,254.3 233.2,254.5 232.0,254.7 230.5,255.0 229.5,255.1 228.0,255.3 226.8,255.5 225.5,255.7 224.0,255.8 222.5,256.0 221.5,256.0 220.0,256.1 218.5,256.2 217.0,256.3 215.5,256.4 214.0,256.4 212.5,256.4 211.0,256.4 209.5,256.4 208.0,256.3 206.5,256.2 205.0,256.1 203.5,256.0 202.5,255.9 201.0,255.7 199.5,255.5 198.5,255.4 197.0,255.1 196.0,255.0 194.5,254.7 193.5,254.4 192.0,254.1 191.0,253.8 190.0,253.5 188.5,253.0 187.5,252.7 186.5,252.3 185.5,251.9 184.5,251.5 183.4,251.0 182.4,250.5 181.5,250.0 180.5,249.4 179.5,248.8 178.5,248.1 177.8,247.5 177.0,246.8 176.1,246.0 175.5,245.3 174.8,244.5 174.2,243.5 173.6,242.5 173.2,241.5 172.9,240.5 172.7,239.0 172.8,237.5 173.0,236.5 173.5,235.2 174.0,234.3 174.5,233.5 175.3,232.5 176.0,231.7 176.7,231.0 177.5,230.3 178.5,229.5 179.2,229.0 180.0,228.5 181.0,227.9 182.0,227.3 183.0,226.8 184.0,226.3 185.0,225.9 186.0,225.5 187.2,225.0 188.5,224.5 189.5,224.2 190.5,223.8 191.6,223.5 193.0,223.1 194.0,222.8 195.2,222.5 196.5,222.2 197.5,222.0 199.0,221.6 200.0,221.4 201.5,221.2 202.5,221.0 204.0,220.7 205.5,220.5 206.5,220.4 208.0,220.2 209.4,220.0 210.5,219.9 212.0,219.7 213.5,219.6 214.5,219.5 216.0,219.4 217.5,219.3 219.0,219.2 220.5,219.1 222.0,219.0Z" fill="#4666bc"/>
<path d="M257.5,171.5 259.0,171.3 260.5,171.2 262.0,171.2 263.5,171.2 265.0,171.4 266.0,171.6 267.5,172.0 268.5,172.3 269.5,172.6 270.5,173.1 271.5,173.6 272.5,174.2 273.5,174.9 274.2,175.5 275.0,176.3 275.6,177.0 276.2,178.0 276.7,179.0 277.0,180.1 277.2,181.5 277.0,183.0 276.7,184.0 276.3,185.0 275.7,186.0 275.0,186.9 274.4,187.5 273.5,188.3 272.5,189.0 271.7,189.5 270.8,190.0 269.7,190.5 268.5,190.9 267.5,191.2 266.5,191.5 265.0,191.8 263.5,192.0 262.5,192.0 261.0,192.0 260.0,192.0 258.5,191.9 257.0,191.6 256.0,191.4 254.5,191.0 253.5,190.6 252.5,190.2 251.5,189.8 250.5,189.2 249.5,188.5 248.9,188.0 248.0,187.2 247.4,186.5 246.8,185.5 246.3,184.5 246.0,183.5 245.8,182.0 245.9,180.5 246.1,179.5 246.5,178.5 247.1,177.5 247.8,176.5 248.5,175.8 249.4,175.0 250.0,174.5 251.0,173.9 252.0,173.3 253.0,172.8 254.0,172.4 255.3,172.0 256.5,171.7 257.5,171.5ZM222.9,187.0 224.0,186.9 225.5,186.9 226.8,187.0 228.0,187.1 229.5,187.4 230.5,187.6 231.9,188.0 233.0,188.4 234.0,188.8 235.0,189.3 236.0,189.8 237.0,190.5 237.6,191.0 238.5,191.9 239.0,192.5 239.7,193.5 240.2,194.5 240.5,195.5 240.8,197.0 240.8,198.5 240.5,199.9 240.2,201.0 239.7,202.0 239.2,203.0 238.6,204.0 238.0,204.9 237.5,205.6 236.8,206.5 236.1,207.5 235.5,208.2 234.9,209.0 234.2,210.0 233.6,211.0 233.0,212.0 232.5,213.0 232.3,214.0 232.3,215.5 232.7,216.5 233.4,217.5 234.0,218.2 234.8,219.0 235.5,219.7 236.2,220.5 237.0,221.4 237.5,222.0 238.2,223.0 238.7,224.0 239.1,225.0 239.4,226.5 239.4,228.0 239.0,229.5 238.6,230.5 238.1,231.5 237.5,232.3 236.8,233.0 236.0,233.8 235.1,234.5 234.3,235.0 233.4,235.5 232.4,236.0 231.1,236.5 230.0,236.9 229.0,237.1 227.5,237.5 226.5,237.6 225.0,237.7 223.5,237.8 222.0,237.7 220.5,237.6 219.5,237.4 218.0,237.1 217.0,236.9 215.7,236.5 214.5,236.1 213.5,235.7 212.5,235.2 211.5,234.7 210.5,234.2 209.5,233.6 208.5,233.1 207.5,232.5 206.6,232.0 205.7,231.5 204.8,231.0 203.8,230.5 202.8,230.0 201.8,229.5 200.7,229.0 199.7,228.5 198.6,228.0 197.6,227.5 196.6,227.0 195.7,226.5 194.8,226.0 193.9,225.5 193.0,225.0 192.0,224.4 191.0,223.8 190.0,223.2 189.1,222.5 188.4,222.0 187.5,221.3 186.6,220.5 186.0,219.9 185.1,219.0 184.5,218.2 184.0,217.4 183.5,216.5 183.0,215.2 182.7,214.0 182.7,212.5 182.9,211.0 183.3,210.0 183.8,209.0 184.5,208.0 185.0,207.3 185.8,206.5 186.5,205.9 187.5,205.2 188.5,204.6 189.5,204.0 190.5,203.5 191.5,203.1 192.5,202.7 193.5,202.4 194.6,202.0 196.0,201.6 197.0,201.2 198.0,200.9 199.2,200.5 200.4,200.0 201.5,199.5 202.4,199.0 203.2,198.5 204.0,198.0 205.0,197.2 205.8,196.5 206.5,195.8 207.3,195.0 208.0,194.3 208.9,193.5 209.5,192.9 210.5,192.0 211.1,191.5 212.0,190.9 213.0,190.2 214.0,189.6 215.0,189.1 216.0,188.6 217.0,188.2 218.0,187.9 219.5,187.5 220.5,187.3 222.0,187.1Z" fill="#f0cdd2" fill-opacity="0.28"/>
<path d="M257.7,175.0 259.0,174.7 260.5,174.6 262.0,174.5 263.5,174.7 265.0,174.9 266.0,175.2 267.0,175.6 268.0,176.0 269.0,176.6 270.0,177.4 270.6,178.0 271.4,179.0 271.8,180.0 272.1,181.0 272.0,182.5 271.7,183.5 271.2,184.5 270.5,185.3 269.8,186.0 269.0,186.6 268.0,187.2 267.0,187.6 266.0,188.0 264.5,188.4 263.5,188.5 262.0,188.7 260.5,188.6 259.2,188.5 258.0,188.3 257.0,188.0 255.7,187.5 254.6,187.0 253.8,186.5 253.0,185.8 252.2,185.0 251.5,184.0 251.1,183.0 250.9,182.0 251.0,180.7 251.4,179.5 252.0,178.5 252.5,177.9 253.5,177.0 254.2,176.5 255.0,176.0 256.2,175.5 257.5,175.1ZM221.5,190.5 223.0,190.3 224.5,190.2 226.0,190.3 227.5,190.4 228.5,190.6 229.7,191.0 231.0,191.5 232.0,192.0 232.8,192.5 233.5,193.0 234.5,194.0 235.0,194.7 235.5,195.7 235.9,197.0 236.0,198.5 235.7,200.0 235.3,201.0 234.9,202.0 234.3,203.0 233.6,204.0 233.0,204.8 232.5,205.5 231.7,206.5 231.0,207.5 230.5,208.1 229.8,209.0 229.1,210.0 228.5,210.9 228.0,211.6 227.5,212.5 227.0,213.5 226.7,215.0 226.9,216.5 227.4,217.5 228.0,218.3 228.6,219.0 229.5,219.8 230.3,220.5 231.0,221.1 231.9,222.0 232.5,222.6 233.2,223.5 233.8,224.5 234.2,225.5 234.4,227.0 234.3,228.5 233.9,229.5 233.2,230.5 232.5,231.3 231.7,232.0 231.0,232.5 230.0,233.0 229.0,233.5 227.5,234.0 226.5,234.2 225.0,234.4 223.5,234.5 222.0,234.4 220.5,234.3 219.2,234.0 218.0,233.7 217.0,233.3 216.0,232.9 215.0,232.5 214.0,232.0 213.0,231.5 212.0,230.9 211.0,230.4 210.0,229.8 209.0,229.3 208.0,228.8 207.0,228.3 206.0,227.8 205.0,227.3 204.0,226.9 203.0,226.4 202.0,226.0 200.9,225.5 199.9,225.0 198.9,224.5 197.9,224.0 197.0,223.5 196.0,222.9 195.0,222.3 194.0,221.7 193.0,221.0 192.3,220.5 191.5,219.9 190.5,219.0 190.0,218.5 189.1,217.5 188.5,216.6 188.0,215.7 187.6,214.5 187.4,213.5 187.5,212.2 187.8,211.0 188.3,210.0 189.0,209.1 189.6,208.5 190.5,207.7 191.5,207.0 192.4,206.5 193.4,206.0 194.5,205.5 195.5,205.2 196.5,204.8 197.6,204.5 199.0,204.1 200.0,203.8 201.0,203.5 202.3,203.0 203.5,202.5 204.5,202.0 205.4,201.5 206.2,201.0 207.0,200.4 208.0,199.6 208.7,199.0 209.5,198.3 210.3,197.5 211.0,196.8 211.8,196.0 212.5,195.3 213.4,194.5 214.0,194.0 215.0,193.3 216.0,192.6 217.0,192.0 218.0,191.6 219.0,191.2 220.0,190.9 221.5,190.5Z" fill="#e196a0" fill-opacity="0.32"/>
<path d="M259.2,179.0 260.5,178.6 262.0,178.6 263.5,178.9 264.5,179.3 265.4,180.0 266.0,181.0 266.0,182.0 265.5,183.0 265.0,183.5 264.0,184.1 262.8,184.5 261.5,184.6 260.2,184.5 259.0,184.1 258.0,183.5 257.5,183.0 257.0,182.0 257.0,181.0 257.6,180.0 258.5,179.3ZM221.7,194.0 223.0,193.8 224.5,193.7 226.0,193.8 227.0,194.0 228.2,194.5 229.1,195.0 230.0,195.8 230.5,196.5 231.0,197.7 231.1,199.0 230.9,200.0 230.5,201.0 230.0,202.0 229.3,203.0 228.6,204.0 228.0,204.9 227.5,205.5 226.8,206.5 226.0,207.5 225.5,208.1 224.8,209.0 224.0,210.0 223.5,210.7 222.9,211.5 222.3,212.5 221.8,213.5 221.4,214.5 221.3,216.0 221.5,217.3 222.0,218.4 222.5,219.2 223.2,220.0 224.0,220.7 224.9,221.5 225.6,222.0 226.5,222.8 227.3,223.5 228.0,224.3 228.5,225.0 229.0,226.4 229.0,227.3 228.6,228.5 228.0,229.2 227.0,229.9 226.0,230.4 225.0,230.7 223.5,230.9 222.0,230.9 220.5,230.6 219.5,230.4 218.4,230.0 217.2,229.5 216.2,229.0 215.3,228.5 214.4,228.0 213.4,227.5 212.5,227.0 211.4,226.5 210.3,226.0 209.1,225.5 208.0,225.1 207.0,224.7 206.0,224.3 205.0,223.9 204.0,223.5 202.8,223.0 201.7,222.5 200.7,222.0 199.7,221.5 198.8,221.0 198.0,220.5 197.0,219.9 196.0,219.2 195.2,218.5 194.5,217.9 193.6,217.0 193.0,216.2 192.5,215.3 192.1,214.0 192.2,212.5 192.6,211.5 193.3,210.5 194.0,209.8 195.0,209.1 196.0,208.5 197.0,208.1 198.0,207.7 199.0,207.4 200.3,207.0 201.5,206.7 202.5,206.4 203.8,206.0 205.0,205.6 206.0,205.2 207.0,204.7 208.0,204.1 209.0,203.5 209.7,203.0 210.5,202.4 211.5,201.6 212.1,201.0 213.0,200.2 213.7,199.5 214.5,198.7 215.2,198.0 216.0,197.3 216.9,196.5 217.6,196.0 218.5,195.4 219.5,194.8 220.5,194.4 221.7,194.0Z" fill="#c8505f" fill-opacity="0.5"/>
<path d="M222.3,198.0 223.5,197.9 224.5,198.1 225.5,199.0 225.6,200.0 225.4,201.0 224.9,202.0 224.3,203.0 223.7,204.0 223.0,205.0 222.5,205.6 221.9,206.5 221.1,207.5 220.5,208.2 219.8,209.0 219.0,210.0 218.5,210.6 217.9,211.5 217.4,212.5 217.0,213.5 216.7,215.0 216.7,216.5 216.8,218.0 217.0,219.4 217.2,220.5 217.4,222.0 217.0,223.1 215.5,223.4 214.0,223.2 212.5,223.0 211.5,222.9 210.0,222.6 209.0,222.3 207.7,222.0 206.5,221.6 205.5,221.3 204.5,220.9 203.5,220.5 202.5,220.0 201.5,219.5 200.5,218.9 199.5,218.3 198.5,217.5 198.0,217.0 197.1,216.0 196.5,215.0 196.3,214.0 196.5,212.7 197.0,211.9 198.0,211.0 198.9,210.5 200.0,210.0 201.0,209.7 202.0,209.4 203.5,209.0 204.5,208.8 205.7,208.5 207.0,208.1 208.0,207.8 209.0,207.4 210.0,206.9 211.0,206.4 212.0,205.7 213.0,205.0 213.6,204.5 214.5,203.8 215.4,203.0 216.0,202.5 217.0,201.6 217.6,201.0 218.5,200.2 219.4,199.5 220.1,199.0 221.0,198.5 222.3,198.0Z" fill="#aa2032" fill-opacity="0.7"/>
<path d="M354.0,117.0 354.6,117.0 356.0,117.0 357.5,117.1 359.0,117.2 360.5,117.4 361.5,117.5 363.0,117.8 364.0,118.0 365.5,118.4 366.5,118.6 367.7,119.0 369.0,119.4 370.0,119.8 371.0,120.3 372.0,120.7 373.0,121.3 374.0,121.9 374.9,122.5 375.5,123.0 376.5,123.8 377.2,124.5 378.0,125.5 378.5,126.2 379.0,127.0 379.5,128.0 380.0,129.5 380.2,130.5 380.4,132.0 380.4,133.5 380.3,135.0 380.0,136.5 379.8,137.5 379.4,138.5 379.0,139.6 378.5,140.7 378.0,141.6 377.4,142.5 376.7,143.5 376.0,144.4 375.5,145.0 374.5,146.0 374.0,146.5 373.0,147.4 372.3,148.0 371.5,148.6 370.5,149.4 369.7,150.0 369.0,150.5 368.0,151.2 367.0,151.9 366.1,152.5 365.3,153.0 364.5,153.5 363.5,154.1 362.5,154.7 361.5,155.2 360.5,155.8 359.5,156.2 358.5,156.7 357.5,157.1 356.5,157.5 355.2,158.0 354.0,158.4 353.0,158.7 352.0,159.0 350.5,159.4 349.5,159.7 348.0,160.0 347.0,160.2 345.5,160.5 344.5,160.7 343.0,160.9 342.0,161.0 340.5,161.2 339.0,161.4 338.0,161.5 336.5,161.7 335.0,161.8 333.5,162.0 332.5,162.1 331.0,162.2 329.5,162.4 328.0,162.5 327.0,162.6 325.5,162.8 324.0,163.0 323.0,163.2 321.5,163.4 320.5,163.6 319.0,163.9 318.0,164.1 316.5,164.4 315.5,164.7 314.0,165.0 313.0,165.2 311.9,165.5 310.5,165.8 309.5,166.0 308.0,166.3 307.0,166.5 305.5,166.8 304.0,167.0 303.0,167.1 301.5,167.2 300.0,167.3 298.5,167.4 297.0,167.4 295.5,167.4 294.0,167.3 292.5,167.2 291.0,167.1 290.0,166.9 288.5,166.7 287.5,166.5 286.0,166.2 285.0,165.9 283.7,165.5 282.5,165.1 281.5,164.7 280.5,164.3 279.5,163.8 278.5,163.3 277.5,162.7 276.5,162.0 275.9,161.5 275.0,160.6 274.4,160.0 273.7,159.0 273.1,158.0 272.7,157.0 272.5,155.5 272.6,154.0 273.0,152.8 273.5,151.8 274.1,151.0 274.9,150.0 275.5,149.4 276.5,148.6 277.3,148.0 278.0,147.5 279.0,146.9 280.0,146.4 281.0,145.9 282.0,145.5 283.2,145.0 284.5,144.5 285.5,144.2 286.5,143.9 287.7,143.5 289.0,143.1 290.0,142.9 291.4,142.5 292.5,142.2 293.5,141.9 295.0,141.6 296.0,141.3 297.1,141.0 298.5,140.6 299.5,140.3 300.7,140.0 302.0,139.6 303.0,139.3 304.1,139.0 305.5,138.6 306.5,138.3 307.7,138.0 309.0,137.6 310.0,137.4 311.5,137.0 312.5,136.7 313.5,136.5 315.0,136.1 316.0,135.9 317.3,135.5 318.5,135.1 319.5,134.8 320.5,134.5 321.6,134.0 322.6,133.5 323.5,133.0 324.5,132.2 325.3,131.5 326.0,130.8 326.7,130.0 327.4,129.0 328.0,128.2 328.5,127.5 329.3,126.5 330.0,125.6 330.6,125.0 331.5,124.1 332.2,123.5 333.0,122.9 334.0,122.2 335.0,121.5 336.0,121.0 337.0,120.5 338.0,120.0 339.0,119.6 340.0,119.3 341.0,118.9 342.5,118.5 343.5,118.2 344.5,118.0 346.0,117.7 347.3,117.5 348.5,117.3 350.0,117.2 351.5,117.1 353.0,117.0ZM251.8,173.0 253.0,172.9 254.5,172.8 256.0,172.8 257.5,172.8 259.0,172.8 260.5,172.9 261.5,173.0 263.0,173.2 264.5,173.4 265.5,173.6 267.0,173.9 268.0,174.2 269.2,174.5 270.5,174.9 271.5,175.3 272.5,175.7 273.5,176.2 274.5,176.7 275.5,177.3 276.5,178.0 277.1,178.5 278.0,179.3 278.7,180.0 279.5,181.0 280.0,182.0 280.4,183.0 280.6,184.0 280.6,185.5 280.4,186.5 280.0,187.6 279.5,188.5 278.8,189.5 278.0,190.3 277.2,191.0 276.5,191.6 275.5,192.3 274.5,192.9 273.5,193.4 272.5,193.8 271.5,194.3 270.5,194.6 269.4,195.0 268.0,195.4 267.0,195.7 265.5,196.0 264.5,196.2 263.0,196.4 262.0,196.5 260.5,196.7 259.0,196.8 257.5,196.8 256.0,196.8 254.5,196.8 253.0,196.7 251.5,196.6 250.5,196.4 249.0,196.2 247.8,196.0 246.5,195.7 245.5,195.5 244.0,195.1 243.0,194.7 242.0,194.4 241.0,194.0 240.0,193.5 239.0,193.0 238.0,192.4 237.0,191.8 236.0,191.0 235.4,190.5 234.5,189.6 234.0,188.9 233.4,188.0 232.9,187.0 232.6,185.5 232.6,184.0 233.0,182.5 233.4,181.5 234.0,180.7 234.5,180.0 235.5,179.0 236.1,178.5 237.0,177.8 238.0,177.2 239.0,176.6 240.0,176.1 241.0,175.6 242.0,175.2 243.0,174.9 244.1,174.5 245.5,174.1 246.5,173.9 248.0,173.6 249.0,173.4 250.5,173.1 251.8,173.0Z" fill="#cde6d0" fill-opacity="0.28"/>
<path d="M349.7,121.5 351.0,121.3 352.5,121.2 354.0,121.2 355.5,121.2 357.0,121.3 358.5,121.5 359.5,121.6 361.0,121.9 362.0,122.1 363.3,122.5 364.5,122.9 365.5,123.3 366.5,123.8 367.5,124.4 368.5,125.0 369.1,125.5 370.0,126.3 370.7,127.0 371.4,128.0 372.0,129.0 372.4,130.0 372.7,131.0 372.9,132.5 372.9,134.0 372.7,135.5 372.5,136.6 372.1,138.0 371.6,139.0 371.1,140.0 370.5,141.0 370.0,141.8 369.4,142.5 368.6,143.5 368.0,144.1 367.0,145.0 366.5,145.5 365.5,146.3 364.7,147.0 364.0,147.5 363.0,148.3 362.0,149.0 361.2,149.5 360.5,150.0 359.5,150.6 358.5,151.2 357.5,151.8 356.5,152.4 355.5,152.9 354.5,153.4 353.5,153.8 352.5,154.3 351.5,154.7 350.5,155.0 349.0,155.5 348.0,155.8 347.0,156.1 345.5,156.4 344.5,156.7 343.0,156.9 342.0,157.1 340.5,157.4 339.5,157.5 338.0,157.7 336.5,157.9 335.3,158.0 334.0,158.1 332.5,158.3 331.0,158.4 329.5,158.5 328.5,158.6 327.0,158.7 325.5,158.8 324.0,159.0 323.0,159.1 321.5,159.2 320.0,159.4 319.0,159.6 317.5,159.8 316.4,160.0 315.0,160.3 313.9,160.5 312.5,160.8 311.5,161.1 310.0,161.4 309.0,161.6 307.5,162.0 306.5,162.2 305.0,162.5 304.0,162.6 302.5,162.8 301.0,163.0 300.0,163.1 298.5,163.1 297.0,163.2 295.5,163.1 294.2,163.0 293.0,162.9 291.5,162.6 290.5,162.4 289.0,162.0 288.0,161.7 287.0,161.3 286.0,160.9 285.0,160.4 284.0,159.7 283.1,159.0 282.5,158.4 281.8,157.5 281.4,156.5 281.2,155.0 281.5,153.6 282.0,152.7 282.5,152.0 283.5,151.0 284.2,150.5 285.0,149.9 286.0,149.4 287.0,148.9 288.0,148.4 289.0,148.0 290.5,147.5 291.5,147.2 292.5,146.9 293.8,146.5 295.0,146.2 296.0,145.9 297.5,145.5 298.5,145.3 299.5,145.0 301.0,144.6 302.0,144.3 303.0,144.0 304.5,143.5 305.5,143.2 306.5,142.9 307.8,142.5 309.0,142.1 310.0,141.8 311.1,141.5 312.5,141.1 313.5,140.8 314.7,140.5 316.0,140.2 317.0,139.9 318.5,139.6 319.5,139.3 320.8,139.0 322.0,138.7 323.0,138.4 324.4,138.0 325.5,137.6 326.5,137.3 327.5,136.8 328.5,136.4 329.5,135.8 330.5,135.1 331.2,134.5 332.0,133.8 332.7,133.0 333.5,132.0 334.0,131.2 334.5,130.5 335.2,129.5 336.0,128.5 336.5,127.9 337.3,127.0 338.0,126.3 339.0,125.5 339.8,125.0 340.5,124.5 341.5,124.0 342.5,123.5 343.7,123.0 345.0,122.5 346.0,122.2 347.0,122.0 348.5,121.7 349.7,121.5ZM252.0,177.5 253.5,177.3 255.0,177.2 256.5,177.1 258.0,177.2 259.5,177.3 261.0,177.5 262.0,177.6 263.5,178.0 264.5,178.2 265.5,178.6 266.6,179.0 267.6,179.5 268.5,180.0 269.5,180.7 270.4,181.5 271.0,182.2 271.5,183.1 271.9,184.5 271.7,186.0 271.3,187.0 270.5,188.0 270.0,188.5 269.0,189.3 268.0,189.9 267.0,190.4 266.0,190.8 265.0,191.2 264.0,191.5 262.5,191.9 261.5,192.1 260.0,192.3 258.5,192.4 257.0,192.5 255.5,192.4 254.0,192.3 252.5,192.2 251.4,192.0 250.0,191.7 249.0,191.4 247.6,191.0 246.5,190.6 245.5,190.1 244.5,189.5 243.8,189.0 243.0,188.3 242.3,187.5 241.7,186.5 241.4,185.5 241.4,184.0 241.7,183.0 242.4,182.0 243.0,181.3 243.9,180.5 244.7,180.0 245.6,179.5 246.6,179.0 247.9,178.5 249.0,178.2 250.0,177.9 251.5,177.6Z" fill="#96c8a0" fill-opacity="0.32"/>
<path d="M352.7,124.0 354.0,124.0 355.5,124.0 356.5,124.1 358.0,124.3 359.2,124.5 360.5,124.9 361.5,125.2 362.5,125.6 363.5,126.1 364.5,126.7 365.5,127.5 366.0,128.0 366.9,129.0 367.4,130.0 367.9,131.0 368.1,132.0 368.3,133.5 368.2,135.0 368.0,136.0 367.6,137.5 367.1,138.5 366.6,139.5 366.0,140.5 365.5,141.2 364.8,142.0 364.0,142.9 363.4,143.5 362.5,144.3 361.7,145.0 361.0,145.5 360.0,146.3 359.1,147.0 358.4,147.5 357.5,148.1 356.5,148.8 355.5,149.4 354.5,150.0 353.6,150.5 352.7,151.0 351.7,151.5 350.6,152.0 349.5,152.5 348.5,152.8 347.5,153.2 346.5,153.5 345.0,154.0 344.0,154.2 342.8,154.5 341.5,154.8 340.2,155.0 339.0,155.2 337.5,155.4 336.5,155.5 335.0,155.7 333.5,155.8 332.0,156.0 331.0,156.0 329.5,156.1 328.0,156.2 326.5,156.3 325.0,156.4 323.7,156.5 322.5,156.6 321.0,156.7 319.5,156.8 318.0,157.0 317.0,157.1 315.5,157.3 314.0,157.5 313.0,157.7 311.5,158.0 310.5,158.2 309.2,158.5 308.0,158.8 307.0,159.0 305.5,159.3 304.5,159.5 303.0,159.8 301.5,160.0 300.5,160.1 299.0,160.2 297.5,160.2 296.0,160.1 295.0,160.0 293.5,159.7 292.5,159.5 291.1,159.0 290.0,158.5 289.2,158.0 288.5,157.4 287.7,156.5 287.4,155.5 287.5,154.3 288.0,153.3 288.7,152.5 289.5,151.9 290.5,151.2 291.5,150.7 292.5,150.3 293.5,149.9 294.7,149.5 296.0,149.1 297.0,148.8 298.2,148.5 299.5,148.2 300.5,147.9 301.9,147.5 303.0,147.2 304.0,146.9 305.2,146.5 306.5,146.1 307.5,145.7 308.5,145.4 309.5,145.0 311.0,144.5 312.0,144.1 313.0,143.8 314.0,143.5 315.5,143.0 316.5,142.8 317.5,142.5 319.0,142.1 320.0,141.8 321.4,141.5 322.5,141.2 323.5,141.0 325.0,140.6 326.0,140.3 327.2,140.0 328.5,139.6 329.5,139.2 330.5,138.8 331.5,138.4 332.5,137.9 333.5,137.3 334.5,136.6 335.2,136.0 336.0,135.2 336.7,134.5 337.4,133.5 338.0,132.7 338.5,132.0 339.2,131.0 339.9,130.0 340.5,129.3 341.3,128.5 342.0,127.9 343.0,127.1 343.9,126.5 344.8,126.0 345.9,125.5 347.0,125.1 348.0,124.8 349.1,124.5 350.5,124.2 352.0,124.1ZM255.4,180.5 256.5,180.5 257.8,180.5 259.0,180.6 260.5,180.9 261.5,181.2 262.5,181.6 263.5,182.2 264.5,183.0 265.0,183.7 265.3,185.0 264.9,186.0 264.1,187.0 263.4,187.5 262.5,188.0 261.1,188.5 260.0,188.8 258.8,189.0 257.5,189.1 256.0,189.1 254.5,189.0 253.5,188.9 252.1,188.5 251.0,188.1 250.0,187.6 249.1,187.0 248.5,186.4 248.0,185.4 248.0,184.2 248.5,183.3 249.2,182.5 250.0,182.0 251.0,181.5 252.4,181.0 253.5,180.7 255.0,180.5Z" fill="#5aa569" fill-opacity="0.42"/>
<path d="M350.9,127.5 352.0,127.3 353.5,127.2 355.0,127.2 356.5,127.4 357.5,127.6 358.7,128.0 359.8,128.5 360.6,129.0 361.5,129.8 362.1,130.5 362.7,131.5 363.1,132.5 363.3,134.0 363.2,135.5 363.0,136.5 362.5,137.8 362.0,138.8 361.5,139.6 360.8,140.5 360.0,141.4 359.4,142.0 358.5,142.9 357.8,143.5 357.0,144.1 356.0,144.9 355.2,145.5 354.5,146.0 353.5,146.7 352.5,147.3 351.5,148.0 350.6,148.5 349.7,149.0 348.7,149.5 347.7,150.0 346.5,150.5 345.5,150.9 344.5,151.3 343.5,151.6 342.0,152.0 341.0,152.2 339.8,152.5 338.5,152.7 337.0,153.0 336.0,153.1 334.5,153.3 333.0,153.4 332.0,153.5 330.5,153.6 329.0,153.7 327.5,153.8 326.0,153.8 324.5,153.8 323.0,153.8 321.5,153.8 320.0,153.8 318.5,153.8 317.0,153.8 315.5,153.8 314.0,153.8 312.5,153.8 311.0,153.8 309.5,154.0 308.5,154.1 307.0,154.3 305.7,154.5 304.5,154.7 303.0,155.0 302.0,155.1 300.5,155.1 299.5,154.9 299.0,154.0 299.6,153.5 300.6,153.0 302.0,152.5 303.0,152.2 304.0,151.9 305.0,151.5 306.3,151.0 307.4,150.5 308.4,150.0 309.4,149.5 310.3,149.0 311.2,148.5 312.1,148.0 313.1,147.5 314.1,147.0 315.2,146.5 316.4,146.0 317.5,145.6 318.5,145.2 319.5,144.9 320.8,144.5 322.0,144.2 323.0,143.9 324.5,143.5 325.5,143.2 326.5,143.0 328.0,142.6 329.0,142.3 330.2,142.0 331.5,141.6 332.5,141.3 333.5,140.9 334.6,140.5 335.6,140.0 336.6,139.5 337.5,139.0 338.5,138.2 339.4,137.5 340.0,136.9 340.8,136.0 341.5,135.2 342.0,134.5 342.7,133.5 343.4,132.5 344.0,131.8 344.7,131.0 345.5,130.2 346.4,129.5 347.1,129.0 348.0,128.5 349.2,128.0 350.5,127.6Z" fill="#28823a" fill-opacity="0.58"/>
<g stroke="#2c50c0" stroke-opacity="0.66" stroke-width="1.1" fill="none"><path d="M129.7,294.4H206.9M129.7,290.1V298.7M206.9,290.1V298.7M168.3,279.1V309.7M162.7,279.1H173.9M162.7,309.7H173.9M156.6,238.3H218.0M156.6,234.0V242.6M218.0,234.0V242.6M187.3,226.4V250.2M181.7,226.4H192.9M181.7,250.2H192.9M195.9,239.5H240.1M195.9,235.2V243.8M240.1,235.2V243.8M218.0,230.0V249.0M212.4,230.0H223.6M212.4,249.0H223.6M208.2,234.8H286.2M208.2,230.5V239.1M286.2,230.5V239.1M247.2,219.8V249.8M241.6,219.8H252.8M241.6,249.8H252.8M257.7,200.2H332.5M257.7,195.9V204.5M332.5,195.9V204.5M295.1,185.0V215.4M289.5,185.0H300.7M289.5,215.4H300.7M368.3,149.8H466.3M368.3,145.5V154.1M466.3,145.5V154.1M417.3,130.8V168.8M411.7,130.8H422.9M411.7,168.8H422.9"/></g>
<g transform="translate(168.3,294.4) scale(1.40,1)"><circle r="3.65" fill="#4a80ff" fill-opacity="0.45" stroke="#2242b2" stroke-width="1.5"/></g><g transform="translate(187.3,238.3) scale(1.40,1)"><circle r="3.65" fill="#4a80ff" fill-opacity="0.45" stroke="#2242b2" stroke-width="1.5"/></g><g transform="translate(218.0,239.5) scale(1.40,1)"><circle r="3.65" fill="#4a80ff" fill-opacity="0.45" stroke="#2242b2" stroke-width="1.5"/></g><g transform="translate(247.2,234.8) scale(1.40,1)"><circle r="3.65" fill="#4a80ff" fill-opacity="0.45" stroke="#2242b2" stroke-width="1.5"/></g><g transform="translate(295.1,200.2) scale(1.40,1)"><circle r="3.65" fill="#4a80ff" fill-opacity="0.45" stroke="#2242b2" stroke-width="1.5"/></g><g transform="translate(417.3,149.8) scale(1.40,1)"><circle r="3.65" fill="#4a80ff" fill-opacity="0.45" stroke="#2242b2" stroke-width="1.5"/></g>
<g stroke="#c02c40" stroke-opacity="0.5" stroke-width="1.1" fill="none"><path d="M184.3,212.8H212.7M184.3,208.5V217.1M212.7,208.5V217.1M198.5,207.3V218.3M192.9,207.3H204.1M192.9,218.3H204.1M193.6,219.1H225.6M193.6,214.8V223.4M225.6,214.8V223.4M209.6,214.1V224.1M204.0,214.1H215.2M204.0,224.1H215.2M202.4,207.1H231.4M202.4,202.8V211.4M231.4,202.8V211.4M216.9,201.6V212.6M211.3,201.6H222.5M211.3,212.6H222.5M210.7,197.4H239.1M210.7,193.1V201.7M239.1,193.1V201.7M224.9,192.1V202.7M219.3,192.1H230.5M219.3,202.7H230.5M203.7,227.3H243.7M203.7,223.0V231.6M243.7,223.0V231.6M223.7,216.3V238.3M218.1,216.3H229.3M218.1,238.3H229.3M247.2,181.6H275.8M247.2,177.3V185.9M275.8,177.3V185.9M261.5,176.6V186.6M255.9,176.6H267.1M255.9,186.6H267.1"/></g>
<g transform="translate(198.5,212.8) scale(1.40,1)"><circle r="3.65" fill="#f05060" fill-opacity="0.45" stroke="#b02436" stroke-width="1.5"/></g><g transform="translate(209.6,219.1) scale(1.40,1)"><circle r="3.65" fill="#f05060" fill-opacity="0.45" stroke="#b02436" stroke-width="1.5"/></g><g transform="translate(216.9,207.1) scale(1.40,1)"><circle r="3.65" fill="#f05060" fill-opacity="0.45" stroke="#b02436" stroke-width="1.5"/></g><g transform="translate(224.9,197.4) scale(1.40,1)"><circle r="3.65" fill="#f05060" fill-opacity="0.45" stroke="#b02436" stroke-width="1.5"/></g><g transform="translate(223.7,227.3) scale(1.40,1)"><circle r="3.65" fill="#f05060" fill-opacity="0.45" stroke="#b02436" stroke-width="1.5"/></g><g transform="translate(261.5,181.6) scale(1.40,1)"><circle r="3.65" fill="#f05060" fill-opacity="0.45" stroke="#b02436" stroke-width="1.5"/></g>
<g stroke="#229040" stroke-opacity="0.62" stroke-width="1.1" fill="none"><path d="M241.5,184.8H271.7M241.5,180.5V189.1M271.7,180.5V189.1M256.6,178.9V190.7M251.0,178.9H262.2M251.0,190.7H262.2M282.4,155.3H310.8M282.4,151.0V159.6M310.8,151.0V159.6M296.6,149.4V161.2M291.0,149.4H302.2M291.0,161.2H302.2M304.8,149.0H336.8M304.8,144.7V153.3M336.8,144.7V153.3M320.8,143.6V154.4M315.2,143.6H326.4M315.2,154.4H326.4M302.8,147.9H377.8M302.8,143.6V152.2M377.8,143.6V152.2M340.3,133.4V162.4M334.7,133.4H345.9M334.7,162.4H345.9M337.3,139.0H368.3M337.3,134.7V143.3M368.3,134.7V143.3M352.8,134.0V144.0M347.2,134.0H358.4M347.2,144.0H358.4M337.7,129.1H370.9M337.7,124.8V133.4M370.9,124.8V133.4M354.3,122.8V135.4M348.7,122.8H359.9M348.7,135.4H359.9"/></g>
<g transform="translate(256.6,184.8) scale(1.40,1)"><circle r="3.65" fill="#40d060" fill-opacity="0.45" stroke="#188232" stroke-width="1.5"/></g><g transform="translate(296.6,155.3) scale(1.40,1)"><circle r="3.65" fill="#40d060" fill-opacity="0.45" stroke="#188232" stroke-width="1.5"/></g><g transform="translate(320.8,149.0) scale(1.40,1)"><circle r="3.65" fill="#40d060" fill-opacity="0.45" stroke="#188232" stroke-width="1.5"/></g><g transform="translate(340.3,147.9) scale(1.40,1)"><circle r="3.65" fill="#40d060" fill-opacity="0.45" stroke="#188232" stroke-width="1.5"/></g><g transform="translate(352.8,139.0) scale(1.40,1)"><circle r="3.65" fill="#40d060" fill-opacity="0.45" stroke="#188232" stroke-width="1.5"/></g><g transform="translate(354.3,129.1) scale(1.40,1)"><circle r="3.65" fill="#40d060" fill-opacity="0.45" stroke="#188232" stroke-width="1.5"/></g>
</g>
<path d="M77.5,110V332.0H487.8" stroke="#a6a6a6" stroke-width="1.2" fill="none"/><path d="M487.8,332.6V110" stroke="#b4b4b4" stroke-width="1.7" fill="none"/>
<path d="M72,153.4H77.5M72,203.4H77.5M72,253.3H77.5M72,303.0H77.5M75,128.5H77.5M75,178.4H77.5M75,228.4H77.5M75,278.2H77.5M75,328.1H77.5M100.3,331.9V335.9M212.6,331.9V335.9M325.6,331.9V335.9M438.3,331.9V335.9M156.5,331.9V334.3M269.1,331.9V334.3M382.0,331.9V334.3" stroke="#9a9a9a" stroke-width="1" fill="none"/>
<g transform="translate(502.3,67.5) scale(1.34,1)"><circle r="3.3" fill="#4a72dc"/></g>
<g transform="translate(502.3,91.3) scale(1.34,1)"><circle r="3.3" fill="#d24a5c"/></g>
<g transform="translate(502.3,114.9) scale(1.34,1)"><circle r="3.3" fill="#38a84c"/></g>
<rect x="493.1" y="130" width="18.3" height="16.4" fill="url(#gb)"/>
<rect x="493.1" y="153.8" width="18.3" height="16.4" fill="url(#gr)"/>
<rect x="493.1" y="177.3" width="18.3" height="16.4" fill="url(#gg)"/>
<text transform="translate(15.35,21) rotate(0.03) scale(0.4767,0.3400)" font-weight="bold" stroke="#000" stroke-width="0.88">Graph Builder</text>
<text transform="translate(78.58,45.4) rotate(0.03) scale(0.4971,0.3340)" font-weight="bold" stroke="#000" stroke-width="0.90">Mean</text>
<text transform="translate(149.18,45.4) rotate(0.03) scale(0.4710,0.3340)" font-weight="bold" stroke="#000" stroke-width="0.90">(Winnerscore)</text>
<text transform="translate(314.84,45.4) rotate(0.03) scale(0.4576,0.3340)" font-weight="bold" stroke="#000" stroke-width="0.90">vs.</text>
<text transform="translate(352.07,45.4) rotate(0.03) scale(0.5012,0.3340)" font-weight="bold" stroke="#000" stroke-width="0.90">Mean</text>
<text transform="translate(179.59,67.6) rotate(0.03) scale(0.4686,0.3340)" font-weight="bold" stroke="#000" stroke-width="0.90">(Loserscore)</text>
<text transform="translate(245.26,86.6) rotate(0.03) scale(0.3803,0.2860)" font-weight="bold" stroke="#000" stroke-width="1.05">Division</text>
<text transform="translate(493.24,47) rotate(0.03) scale(0.3617,0.2740)">Year</text>
<text transform="translate(535.42,47) rotate(0.03) scale(0.3945,0.2740)">Period</text>
<text transform="translate(513.74,72.3) rotate(0.03) scale(0.3919,0.2880)" font-weight="bold" stroke="#000" stroke-width="1.04" font-style="italic">2000-2005</text>
<text transform="translate(513.75,96.0) rotate(0.03) scale(0.3985,0.2880)" font-weight="bold" stroke="#000" stroke-width="1.04" font-style="italic">2006-2011</text>
<text transform="translate(513.74,119.7) rotate(0.03) scale(0.3897,0.2880)" font-weight="bold" stroke="#000" stroke-width="1.04" font-style="italic">2012-2017</text>
<text transform="translate(513.74,143.4) rotate(0.03) scale(0.3919,0.2880)" font-weight="bold" stroke="#000" stroke-width="1.04" font-style="italic">2000-2005</text>
<text transform="translate(513.75,167.1) rotate(0.03) scale(0.3985,0.2880)" font-weight="bold" stroke="#000" stroke-width="1.04" font-style="italic">2006-2011</text>
<text transform="translate(513.74,190.8) rotate(0.03) scale(0.3897,0.2880)" font-weight="bold" stroke="#000" stroke-width="1.04" font-style="italic">2012-2017</text>
<text transform="translate(39.90,158.0) rotate(0.03) scale(0.3533,0.2720)">440</text>
<text transform="translate(39.90,208.0) rotate(0.03) scale(0.3539,0.2720)">435</text>
<text transform="translate(39.90,257.9) rotate(0.03) scale(0.3533,0.2720)">430</text>
<text transform="translate(39.90,307.6) rotate(0.03) scale(0.3539,0.2720)">425</text>
<text transform="translate(85.14,349.3) rotate(0.03) scale(0.3535,0.2640)">345</text>
<text transform="translate(197.45,349.3) rotate(0.03) scale(0.3466,0.2640)">350</text>
<text transform="translate(310.65,349.3) rotate(0.03) scale(0.3472,0.2640)">355</text>
<text transform="translate(422.42,349.3) rotate(0.03) scale(0.3617,0.2640)">360</text>
<text transform="translate(208.92,364.6) rotate(0.03) scale(0.3451,0.2600)">Mean (Loserscore)</text>
<text transform="translate(31.1,278.01) rotate(-90) scale(0.2521,0.3480)">Mean (Winnerscore)</text>
<text transform="translate(13.07,381.3) rotate(0.03) scale(0.3831,0.2760)">Each</text>
<text transform="translate(61.06,381.3) rotate(0.03) scale(0.3956,0.2760)">error</text>
<text transform="translate(108.03,381.3) rotate(0.03) scale(0.3729,0.2760)">bar</text>
<text transform="translate(139.63,381.3) rotate(0.03) scale(0.3920,0.2760)">is</text>
<text transform="translate(158.84,381.3) rotate(0.03) scale(0.4061,0.2760)">constructed</text>
<text transform="translate(268.87,381.3) rotate(0.03) scale(0.3947,0.2760)">using</text>
<text transform="translate(322.26,381.3) rotate(0.03) scale(0.3861,0.2760)">factor±SE</text>
<text transform="translate(413.31,381.3) rotate(0.03) scale(0.3943,0.2760)">95%</text>
<text transform="translate(12.67,399.3) rotate(0.03) scale(0.3761,0.2760)">(Winnerscore)</text>
<text transform="translate(136.14,399.3) rotate(0.03) scale(0.4032,0.2760)">and</text>
<text transform="translate(173.55,399.3) rotate(0.03) scale(0.3844,0.2760)">response±SE</text>
<text transform="translate(294.29,399.3) rotate(0.03) scale(0.4036,0.2760)">95%</text>
<text transform="translate(341.06,399.3) rotate(0.03) scale(0.3801,0.2760)">(Loserscore).</text>
<path d="M281.85,104.9V98.3H278V97.3C280.6,97.2 281.9,96.4 282.4,95.1H283.75V104.9Z" fill="#000"/>
</svg>
</body></html>
